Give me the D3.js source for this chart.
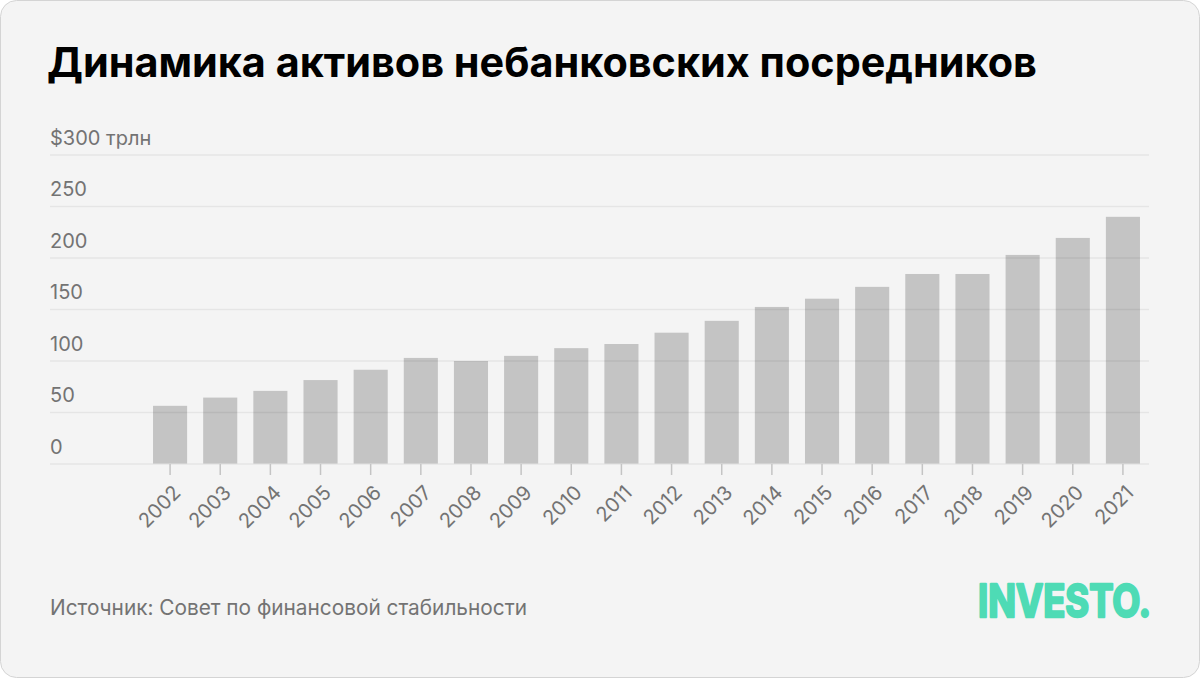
<!DOCTYPE html>
<html lang="ru">
<head>
<meta charset="UTF-8">
<title>Динамика активов небанковских посредников</title>
<script src="https://d3js.org/d3.v7.min.js"></script>
<style>
  html, body { margin: 0; padding: 0; background: #ffffff; }
  svg { display: block; }
  text { font-family: Inter, Roboto, "Noto Sans", sans-serif; }
</style>
</head>
<body>
<svg id="chart" width="1200" height="678"></svg>
<script>
// data
const years = ["2002", "2003", "2004", "2005", "2006", "2007", "2008", "2009", "2010", "2011",
               "2012", "2013", "2014", "2015", "2016", "2017", "2018", "2019", "2020", "2021"];
const assets = [56, 64, 70.5, 81, 91, 102.5, 99.5, 104.5, 112, 116,
                127, 138.5, 152, 160, 171.5, 184, 184, 202.5, 219, 239.5];
const yTicks = [0, 50, 100, 150, 200, 250, 300];

const title = "Динамика активов небанковских посредников";
const source = "Источник: Совет по финансовой стабильности";

const W = 1200, H = 678;
const svg = d3.select("#chart");

// card
svg.append("rect")
    .attr("x", 0.5).attr("y", 0.5)
    .attr("width", W - 1).attr("height", H - 1)
    .attr("rx", 16).attr("ry", 16)
    .attr("fill", "#f4f4f4")
    .attr("stroke", "#d4d4d4");

// fit a text element to a target width
function fitText(sel, target) {
    const fs = parseFloat(sel.attr("font-size"));
    const len = sel.node().getComputedTextLength();
    sel.attr("font-size", (fs * target / len).toFixed(2));
}

const t = svg.append("text")
    .attr("x", 47).attr("y", 77)
    .attr("font-size", 40)
    .attr("font-weight", 700)
    .attr("fill", "#000")
    .text(title);
fitText(t, 990);

// scales
const x = d3.scaleBand()
    .domain(years)
    .range([145, 1148])
    .paddingInner(0.32)
    .paddingOuter(0.16);

const y = d3.scaleLinear()
    .domain([0, 300])
    .range([463.5, 154.5]);

// bars
svg.append("g")
    .selectAll("rect")
    .data(years)
    .join("rect")
    .attr("x", d => x(d))
    .attr("width", x.bandwidth())
    .attr("y", (d, i) => y(assets[i]))
    .attr("height", (d, i) => y(0) - y(assets[i]))
    .attr("fill", "#c4c4c4");

// grid lines (on top of the bars)
const grid = svg.append("g")
    .attr("transform", "translate(50,0)")
    .call(d3.axisLeft(y).tickValues(yTicks).tickSize(-1099).tickFormat(""));
grid.select(".domain").remove();
grid.selectAll(".tick line")
    .attr("stroke", "rgba(0,0,0,0.06)")
    .attr("stroke-width", 1.5);

// y labels above grid lines
svg.append("g")
    .selectAll("text")
    .data(yTicks)
    .join("text")
    .attr("x", 50)
    .attr("y", d => y(d) - 10)
    .attr("font-size", 20)
    .attr("fill", "#737373")
    .text(d => d === 300 ? "$300 трлн" : d);

// x axis ticks and rotated labels
const xAxis = svg.append("g")
    .attr("transform", `translate(0,${y(0) + 0.5})`)
    .call(d3.axisBottom(x).tickSize(11).tickSizeOuter(0));
xAxis.select(".domain").remove();
xAxis.selectAll(".tick line")
    .attr("stroke", "#c4c4c4")
    .attr("stroke-width", 1.5);
xAxis.selectAll(".tick text")
    .attr("font-family", "Inter, Roboto, sans-serif")
    .attr("font-size", 20)
    .attr("fill", "#737373")
    .attr("text-anchor", "end")
    .attr("dy", "0.7em")
    .attr("transform", "translate(2,20) rotate(-45)")
    .attr("y", 0)
    .attr("x", 0);

// source
const s = svg.append("text")
    .attr("x", 50).attr("y", 615)
    .attr("font-size", 19)
    .attr("fill", "#737373")
    .text(source);
fitText(s, 477);

// logo
svg.append("text")
    .attr("x", 978).attr("y", 617)
    .attr("font-family", "'DejaVu Sans', sans-serif")
    .attr("font-weight", "bold")
    .attr("font-size", 45)
    .attr("fill", "#4edbb5")
    .attr("stroke", "#4edbb5")
    .attr("stroke-width", 2.5)
    .attr("stroke-linejoin", "round")
    .attr("textLength", 173)
    .attr("lengthAdjust", "spacingAndGlyphs")
    .text("INVESTO.");
</script>
</body>
</html>
